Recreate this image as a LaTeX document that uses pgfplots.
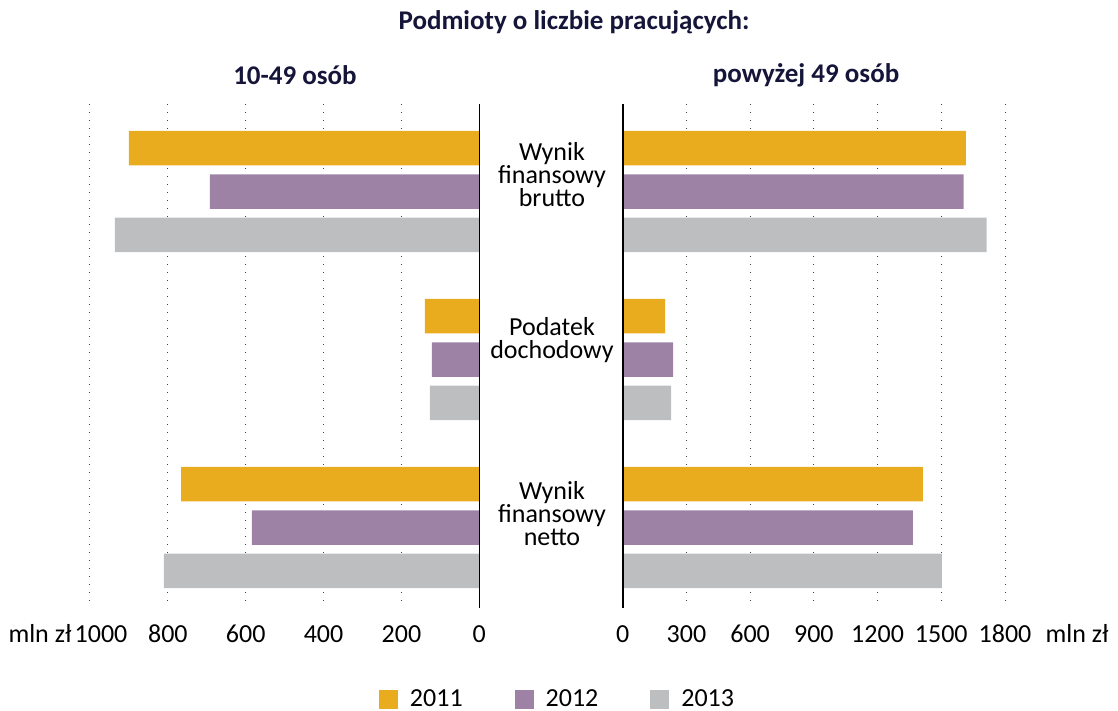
\documentclass[border=0pt]{standalone}
\usepackage{pgfplots}
\pgfplotsset{compat=1.18}
\usepackage{fontspec}
\setmainfont{Carlito}
\definecolor{c2011}{HTML}{E8AC1E}
\definecolor{c2012}{HTML}{9E82A6}
\definecolor{c2013}{HTML}{BDBEC0}
\definecolor{navy}{HTML}{15153A}
\pgfplotstableread{
g  a    b    c
0  900  692  936
1  140  122  127
2  766  584  810
}\leftdata
\pgfplotstableread{
g  a     b     c
0  1616  1605  1713
1  200   237   228
2  1413  1366  1503
}\rightdata
\pgfplotsset{
  panel/.style={
    scale only axis,
    height=252pt,
    anchor=south west,
    xbar, bar width=0.205,
    y dir=reverse,
    ymin=-0.521, ymax=2.479,
    ytick=\empty,
    axis line style={draw=none},
    tick style={draw=none},
    xtick pos=bottom,
    xmajorgrids,
    major grid style={black!75, line width=0.5pt, dash pattern=on 0.5pt off 3.5pt},
    major tick length=0pt,
    /pgf/number format/assume math mode=true,
    /pgf/number format/1000 sep={},
    xticklabel style={anchor=base, yshift=-17pt, font=\fontsize{13}{15}\selectfont},
    clip=false,
  },
}
\begin{document}
\begin{tikzpicture}
\useasboundingbox (0,0) rectangle (559pt,-355.5pt);
% left panel
\begin{axis}[panel,
  at={(45pt,-304pt)}, width=194.65pt,
  x dir=reverse, xmin=0, xmax=1000, xtick={0,200,400,600,800,1000},
  xticklabels={0,200,400,600,800,\hspace{11pt}1000},
  legend style={at={(axis description cs:1.2035,-0.1825)}, anchor=center,
    draw=none, fill=none, legend columns=3,
    font=\fontsize{13}{15}\selectfont,
    /tikz/every even column/.append style={column sep=24pt}},
  legend image code/.code={\fill[#1] (0pt,-4.75pt) rectangle (9.5pt,4.75pt);},
  legend cell align=left,
]
\addplot[fill=c2011, draw=none, bar shift=-0.258] table[x=a, y=g] {\leftdata};
\addplot[fill=c2012, draw=none, bar shift=0] table[x=b, y=g] {\leftdata};
\addplot[fill=c2013, draw=none, bar shift=0.258] table[x=c, y=g] {\leftdata};
\legend{\hspace{4pt}2011,\hspace{4pt}2012,\hspace{4pt}2013}
\draw[black, line width=0.8pt] (axis cs:0,-0.521) -- (axis cs:0,2.479);
\end{axis}
% right panel
\begin{axis}[panel,
  at={(311.35pt,-304pt)}, width=191.15pt,
  xmin=0, xmax=1800, xtick={0,300,600,900,1200,1500,1800},
]
\addplot[fill=c2011, draw=none, bar shift=-0.258] table[x=a, y=g] {\rightdata};
\addplot[fill=c2012, draw=none, bar shift=0] table[x=b, y=g] {\rightdata};
\addplot[fill=c2013, draw=none, bar shift=0.258] table[x=c, y=g] {\rightdata};
\draw[black, line width=0.8pt] (axis cs:0,-0.521) -- (axis cs:0,2.479);
\end{axis}
% titles
\node[font=\bfseries\fontsize{13.5}{15}\selectfont, text=navy] at (287pt,-11pt) {Podmioty o liczbie pracujących:};
\node[font=\bfseries\fontsize{13.5}{15}\selectfont, text=navy] at (147.5pt,-37.5pt) {10-49 osób};
\node[font=\bfseries\fontsize{13.5}{15}\selectfont, text=navy] at (403pt,-37.5pt) {powyżej 49 osób};
% category labels
\begin{scope}[every node/.style={align=center, font=\fontsize{13}{11.5}\selectfont, inner sep=0pt}]
\node at (276pt,-87.5pt) {Wynik\\finansowy\\brutto};
\node at (276pt,-170pt) {Podatek\\dochodowy};
\node at (276pt,-257pt) {Wynik\\finansowy\\netto};
\end{scope}
% unit labels
\node[anchor=base, font=\fontsize{13}{15}\selectfont] at (20pt,-321pt) {mln zł};
\node[anchor=base, font=\fontsize{13}{15}\selectfont] at (538.5pt,-321pt) {mln zł};
\end{tikzpicture}
\end{document}
